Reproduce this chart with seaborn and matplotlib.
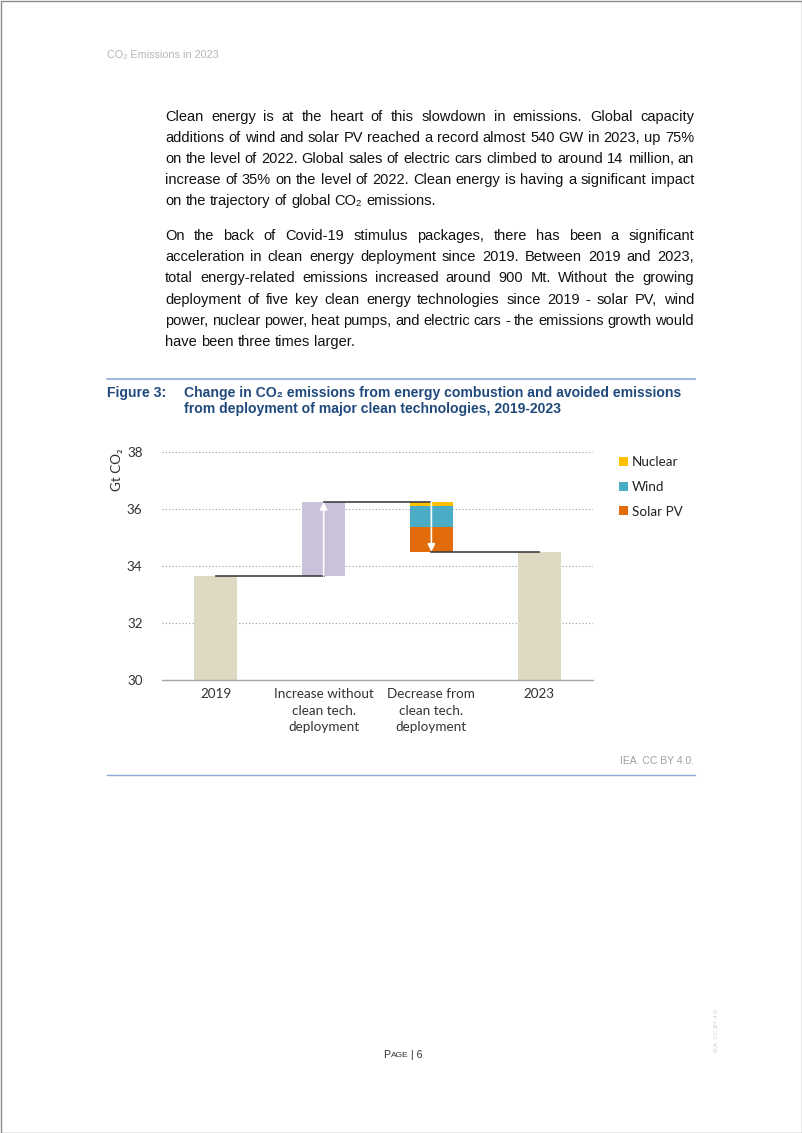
import matplotlib
matplotlib.use("Agg")
import matplotlib.pyplot as plt
from matplotlib.patches import Patch, Rectangle
from matplotlib.lines import Line2D
import seaborn as sns
import pandas as pd
import numpy as np

# ---------------- data ----------------
categories = ["2019", "Increase without\nclean tech.\ndeployment",
              "Decrease from\nclean tech.\ndeployment", "2023"]
total_2019 = 33.65
increase_no_clean = 2.60
avoided_labels = ["Nuclear", "Wind", "Solar PV"]
avoided_values = [0.15, 0.72, 0.88]
total_2023 = 34.50
y_ticks = [30, 32, 34, 36, 38]

para1 = [
    "Clean energy is at the heart of this slowdown in emissions. Global capacity",
    "additions of wind and solar PV reached a record almost 540 GW in 2023, up 75%",
    "on the level of 2022. Global sales of electric cars climbed to around 14 million, an",
    "increase of 35% on the level of 2022. Clean energy is having a significant impact",
    "on the trajectory of global CO\u2082 emissions.",
]
para2 = [
    "On the back of Covid-19 stimulus packages, there has been a significant",
    "acceleration in clean energy deployment since 2019. Between 2019 and 2023,",
    "total energy-related emissions increased around 900 Mt. Without the growing",
    "deployment of five key clean energy technologies since 2019 - solar PV, wind",
    "power, nuclear power, heat pumps, and electric cars - the emissions growth would",
    "have been three times larger.",
]

# ---------------- styles ----------------
W, H = 802, 1133
BODY = ["Liberation Sans", "DejaVu Sans"]
CHART = ["Lato", "DejaVu Sans"]
col_total = "#ddd9c3"
col_inc = "#ccc1da"
col_avoided = ["#ffc000", "#4bacc6", "#e36c0a"]
title_col = "#1f497d"
rule_col = "#8eaad6"

fig = plt.figure(figsize=(W / 100, H / 100), dpi=100)
fig.patch.set_facecolor("white")


def fx(x):
    return x / W


def fy(y):
    return 1 - y / H


renderer = fig.canvas.get_renderer()


def justify(line, y, left=165, right=694, last=False, size=10.5):
    words = line.split(" ")
    texts = [fig.text(0, 0, w, family=BODY, fontsize=size, color="#111111",
                      va="center", ha="left") for w in words]
    widths = [t.get_window_extent(renderer).width for t in texts]
    if last or len(words) == 1:
        t_sp = fig.text(0, 0, "a a", family=BODY, fontsize=size)
        t_n = fig.text(0, 0, "aa", family=BODY, fontsize=size)
        gap = t_sp.get_window_extent(renderer).width - t_n.get_window_extent(renderer).width
        t_sp.remove(); t_n.remove()
    else:
        gap = (right - left - sum(widths)) / (len(words) - 1)
    x = left
    for t, w in zip(texts, widths):
        t.set_position((fx(x), fy(y)))
        x += w + gap


# header
fig.text(fx(107), fy(55), "CO\u2082 Emissions in 2023", family=BODY, fontsize=7.8,
         color="#b5b5b5", va="center", ha="left")

ys1 = [117, 138, 159, 180, 201]
for i, (ln, yy) in enumerate(zip(para1, ys1)):
    justify(ln, yy, last=(i == len(para1) - 1))
ys2 = [236, 257, 278, 300, 321, 342]
for i, (ln, yy) in enumerate(zip(para2, ys2)):
    justify(ln, yy, last=(i == len(para2) - 1))

# figure title + rules
fig.add_artist(Line2D([fx(107), fx(695)], [fy(379), fy(379)], color=rule_col, lw=1.2,
                      transform=fig.transFigure))
fig.add_artist(Line2D([fx(107), fx(695)], [fy(775), fy(775)], color=rule_col, lw=1.0,
                      transform=fig.transFigure))
fig.text(fx(107), fy(392.5), "Figure 3:", family=BODY, fontsize=10.1, fontweight="bold",
         color=title_col, va="center", ha="left")
fig.text(fx(184), fy(392.5), "Change in CO\u2082 emissions from energy combustion and avoided emissions",
         family=BODY, fontsize=10.1, fontweight="bold", color=title_col, va="center", ha="left")
fig.text(fx(184), fy(408.5), "from deployment of major clean technologies, 2019-2023",
         family=BODY, fontsize=10.1, fontweight="bold", color=title_col, va="center", ha="left")

# ---------------- chart ----------------
ax = fig.add_axes([fx(162), fy(680), (593 - 162) / W, (680 - 452) / H])
df = pd.DataFrame({"cat": [categories[0], categories[3]],
                   "val": [total_2019, total_2023]})
sns.barplot(data=df, x="cat", y="val", order=categories, color=col_total,
            saturation=1, width=0.4, errorbar=None, ax=ax, zorder=2)

bw = 0.4
ax.bar(1, increase_no_clean, bottom=total_2019, width=bw, color=col_inc, zorder=2)
top = total_2019 + increase_no_clean
cur = top
for lab, v, c in zip(avoided_labels, avoided_values, col_avoided):
    ax.bar(2, v, bottom=cur - v, width=bw, color=c, zorder=2, label=lab)
    cur -= v

# connectors
ax.plot([0, 1], [total_2019, total_2019], color="#404040", lw=1.2, zorder=3)
ax.plot([1, 2], [top, top], color="#404040", lw=1.2, zorder=3)
ax.plot([2, 3], [total_2023, total_2023], color="#404040", lw=1.2, zorder=3)

# arrows
ax.annotate("", xy=(1, top), xytext=(1, total_2019),
            arrowprops=dict(arrowstyle="-|>", color="white", lw=1.2,
                            mutation_scale=11, shrinkA=0, shrinkB=0), zorder=4)
ax.annotate("", xy=(2, cur), xytext=(2, top),
            arrowprops=dict(arrowstyle="-|>", color="white", lw=1.2,
                            mutation_scale=11, shrinkA=0, shrinkB=0), zorder=4)

ax.set_xlim(-0.5, 3.5)
ax.set_ylim(30, 38)
ax.set_yticks(y_ticks)
ax.set_yticklabels([str(t) for t in y_ticks], family=CHART, fontsize=9.7, color="#333333")
ax.set_xticks(range(len(categories)))
ax.set_xticklabels(categories, family=CHART, fontsize=9.7, color="#333333", linespacing=1.45)
ax.tick_params(axis="y", length=0, pad=14)
ax.tick_params(axis="x", length=0, pad=6)
ax.set_xlabel("")
ax.set_ylabel("")
ax.yaxis.grid(True, linestyle=(0, (1, 2)), color="#9a9a9a", lw=0.8)
ax.xaxis.grid(False)
ax.set_axisbelow(True)
for s in ["left", "top", "right"]:
    ax.spines[s].set_visible(False)
ax.spines["bottom"].set_color("#a6a6a6")
ax.spines["bottom"].set_linewidth(1.0)
ax.set_facecolor("none")

fig.text(fx(117), fy(470), "Gt CO\u2082", family=CHART, fontsize=9.7, color="#333333",
         rotation=90, va="center", ha="center")

handles = [Patch(facecolor=c, edgecolor="none") for c in col_avoided]
leg = ax.legend(handles, avoided_labels, loc="upper left",
                bbox_to_anchor=(fx(619), fy(456)), bbox_transform=fig.transFigure,
                frameon=False, handlelength=0.65, handleheight=0.65, handletextpad=0.3,
                labelspacing=0.95, borderaxespad=0, borderpad=0,
                prop={"family": CHART, "size": 9.7})
for t in leg.get_texts():
    t.set_color("#222222")

# footer texts
fig.text(fx(694), fy(761), "IEA. CC BY 4.0.", family=BODY, fontsize=7.5, color="#a0a0a0",
         va="center", ha="right")
fig.text(fx(383), fy(1055), "P", family=BODY, fontsize=7.6, color="#333333", va="center", ha="left")
fig.text(fx(390.5), fy(1055.5), "AGE", family=BODY, fontsize=6.0, color="#333333", va="center", ha="left")
fig.text(fx(411), fy(1055), "| 6", family=BODY, fontsize=7.6, color="#333333", va="center", ha="left")
fig.text(fx(716), fy(1030), "IEA. CC BY 4.0.", family=BODY, fontsize=4.5, color="#d0d0d0",
         rotation=90, va="center", ha="center")

# page border
fig.add_artist(Rectangle((0.5 / W, 0.5 / H), 1 - 1 / W, 1 - 1 / H, transform=fig.transFigure,
                         fill=False, edgecolor="#8c8c8c", lw=1.0))

fig.savefig("out.png", dpi=100, facecolor="white")
